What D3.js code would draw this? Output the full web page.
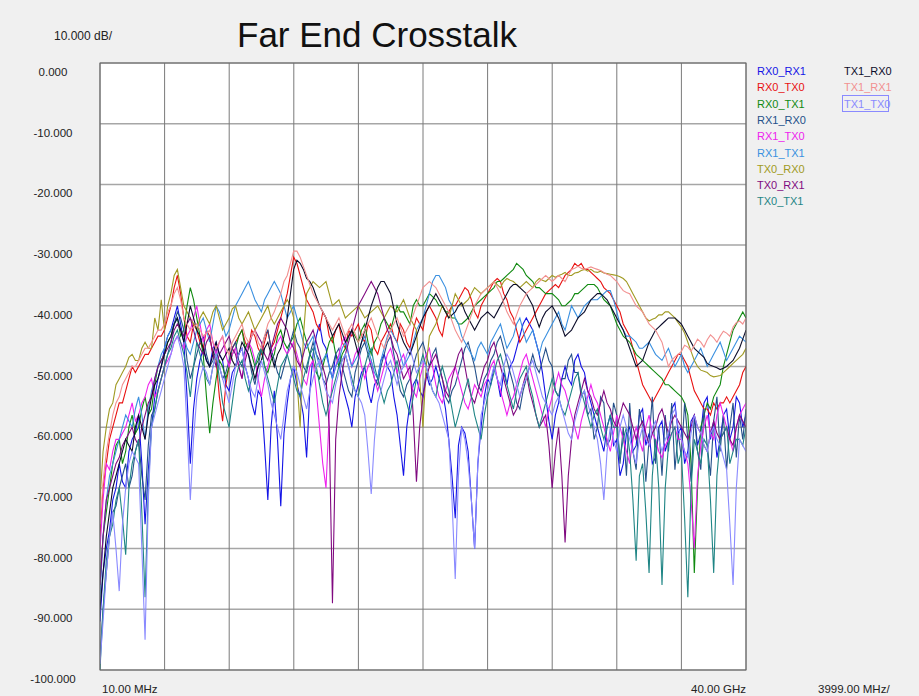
<!DOCTYPE html>
<html>
<head>
<meta charset="utf-8">
<script src="https://cdn.jsdelivr.net/npm/d3@7"></script>
<style>
  html, body { margin: 0; padding: 0; background: #f0f0f0; }
  svg { display: block; font-family: "Liberation Sans", Arial, sans-serif; }
</style>
</head>
<body>
<div id="chart"></div>
<script>
// sweep: 10 MHz then 0.2 GHz steps up to 40 GHz (values in GHz)
const freqs = d3.range(0, 201).map((i) => (i === 0 ? 0.01 : i * 0.2));

const yTicks = [0, -10, -20, -30, -40, -50, -60, -70, -80, -90, -100];
const seriesNames = ['RX0_RX1', 'RX0_TX0', 'RX0_TX1', 'RX1_RX0', 'RX1_TX0', 'RX1_TX1',
  'TX0_RX0', 'TX0_RX1', 'TX0_TX1', 'TX1_RX0', 'TX1_RX1', 'TX1_TX0'];
const seriesColors = ['#1414e6', '#e81010', '#108a10', '#24508a', '#ee22ee', '#3a90e0',
  '#a09a22', '#800a80', '#1f8585', '#0c0c2a', '#f29090', '#8a8aff'];

const rx0_rx1 = [-92,-84,-80,-77,-72,-70,-66,-69,-70,-64,-62,-61,-58,-66,-76,-67,-60,-55,-52,-50,
  -47,-45,-44,-42,-40,-43,-46,-55,-66,-57,-52,-49,-47,-49,-50,-47,-46,-48,-49,-53,
  -54,-51,-50,-48,-47,-50,-52,-56,-58,-54,-55,-63,-72,-60,-54,-62,-73,-61,-56,-52,
  -50,-53,-55,-58,-65,-54,-48,-45,-43,-46,-47,-50,-52,-48,-49,-53,-55,-57,-60,-55,
  -53,-51,-50,-54,-56,-53,-52,-49,-48,-50,-51,-55,-58,-63,-68,-60,-56,-53,-52,-54,
  -55,-51,-53,-52,-50,-52,-54,-57,-62,-68,-75,-63,-60,-61,-64,-72,-80,-66,-60,-55,
  -52,-53,-50,-52,-55,-51,-53,-50,-49,-47,-45,-43,-42,-43,-44,-46,-48,-51,-55,-59,
  -62,-58,-56,-52,-50,-52,-53,-49,-48,-50,-51,-54,-56,-58,-60,-62,-64,-60,-58,-63,
  -62,-68,-66,-61,-60,-64,-63,-58,-57,-63,-61,-66,-65,-60,-59,-64,-62,-57,-56,-61,
  -60,-66,-64,-59,-58,-63,-61,-56,-55,-62,-59,-65,-62,-58,-57,-62,-60,-55,-56,-60,
  -58];
const rx0_tx0 = [-78,-70,-66,-62,-60,-58,-56,-56,-54,-52,-50,-51,-50,-49,-48,-48,-47,-46,-45,-45,
  -44,-42,-40,-37,-35,-38,-42,-45,-46,-43,-44,-46,-47,-44,-45,-48,-49,-55,-59,-53,
  -50,-47,-46,-45,-44,-46,-47,-44,-45,-47,-48,-46,-44,-47,-46,-44,-42,-40,-38,-35,
  -32,-33,-35,-37,-39,-40,-41,-43,-44,-41,-42,-45,-46,-44,-43,-46,-47,-44,-45,-44,
  -43,-45,-46,-43,-44,-47,-48,-46,-45,-44,-43,-45,-46,-43,-44,-46,-47,-44,-42,-43,
  -44,-41,-40,-41,-42,-44,-45,-42,-41,-40,-40,-39,-38,-37,-37.5,-39,-41,-42,-40,-39,
  -38,-37,-36,-35.5,-36,-38,-39,-41,-42,-44,-46,-45,-44,-43,-42,-41,-40,-39,-38,-37.5,
  -37,-36.5,-37,-36,-35,-34.5,-34,-33,-33.5,-33,-34,-34,-34.5,-35,-35.5,-36,-37,-37.5,-38,-39,
  -40,-41,-43,-44,-45,-47,-49,-51,-53,-54,-55,-56,-55,-54,-53,-52,-51,-50,-49,-48,
  -48,-49,-50,-52,-54,-55,-56,-57,-57,-58,-56,-57,-56,-56,-55,-56,-55,-54,-53,-51,
  -50];
const rx0_tx1 = [-85,-78,-74,-70,-66,-63,-62,-66,-64,-60,-58,-61,-60,-57,-55,-58,-57,-53,-50,-49,
  -48,-46,-45,-43,-42,-45,-44,-40,-37,-39,-42,-45,-48,-55,-61,-56,-52,-49,-50,-52,
  -50,-48,-47,-45,-44,-47,-46,-48,-50,-49,-47,-50,-51,-49,-48,-45,-44,-46,-47,-46,
  -45,-43,-42,-44,-46,-48,-49,-51,-52,-50,-48,-46,-45,-48,-50,-48,-47,-45,-44,-45,
  -46,-44,-43,-46,-48,-46,-45,-43,-42,-43,-44,-42,-40,-41,-41,-42,-43,-40,-39,-40,
  -40,-39,-38,-38.5,-39,-40,-40,-41,-41,-42,-42,-43,-43,-42.5,-42,-41,-40,-39.5,-39,-38.5,
  -38,-37.5,-37,-36,-36,-35.5,-35,-34.5,-34,-33,-33.5,-34,-35,-35.5,-36,-37,-37,-37.5,-38,-38,
  -38,-38.5,-39,-40,-40,-39.5,-39,-38,-38,-37.5,-37,-36.5,-36.5,-36.5,-37,-38,-39,-39.5,-40,-41.5,
  -43,-44,-45,-45.5,-46,-47,-48,-48.5,-49,-49.5,-50,-50.5,-51,-51.5,-52,-53,-53,-53.5,-54,-54.5,
  -55,-56,-58,-66,-84,-70,-60,-58,-56,-57,-55,-54,-53,-50,-48,-46,-44,-43,-42,-41,
  -42];
const rx1_rx0 = [-98,-90,-84,-78,-74,-73,-70,-68,-66,-70,-68,-64,-62,-68,-72,-63,-58,-57,-54,-52,
  -50,-48,-46,-43,-41,-42,-44,-49,-52,-50,-48,-46,-45,-48,-50,-49,-47,-50,-52,-51,
  -49,-47,-46,-49,-50,-47,-48,-51,-53,-50,-47,-45,-44,-47,-49,-51,-52,-50,-48,-46,
  -44,-46,-47,-50,-51,-48,-46,-48,-49,-52,-53,-51,-50,-48,-47,-50,-52,-54,-55,-51,
  -49,-47,-46,-48,-50,-52,-53,-50,-48,-46,-45,-48,-51,-54,-55,-53,-52,-50,-48,-47,
  -46,-48,-50,-48,-47,-50,-52,-55,-56,-54,-53,-51,-49,-47,-46,-48,-50,-53,-54,-52,
  -51,-49,-48,-46,-45,-47,-49,-51,-53,-56,-57,-54,-52,-50,-48,-50,-51,-49,-47,-49,
  -50,-54,-55,-52,-52,-49,-48,-51,-51,-55,-54,-58,-57,-62,-60,-55,-56,-63,-62,-56,
  -58,-66,-60,-68,-56,-64,-67,-57,-60,-69,-62,-55,-66,-60,-68,-58,-64,-56,-67,-61,
  -65,-56,-62,-69,-58,-64,-67,-57,-63,-68,-59,-55,-64,-58,-67,-60,-56,-65,-58,-62,
  -57];
const rx1_tx0 = [-80,-72,-66,-67,-64,-62,-62,-61,-60,-58,-56,-59,-58,-56,-55,-53,-52,-55,-54,-52,
  -50,-49,-48,-46,-45,-46,-47,-45,-44,-42,-40,-43,-46,-44,-43,-46,-48,-46,-45,-48,
  -50,-48,-47,-50,-52,-48,-46,-47,-49,-52,-55,-52,-50,-48,-47,-46,-45,-47,-48,-47,
  -46,-48,-50,-52,-53,-50,-49,-54,-60,-66,-70,-58,-52,-50,-48,-46,-45,-48,-50,-48,
  -47,-50,-52,-50,-49,-52,-54,-52,-50,-48,-47,-49,-51,-49,-48,-50,-52,-54,-55,-52,
  -50,-48,-47,-50,-53,-55,-56,-54,-52,-51,-50,-52,-54,-56,-57,-55,-53,-54,-55,-53,
  -52,-50,-49,-52,-54,-56,-58,-56,-55,-53,-51,-49,-48,-50,-52,-54,-56,-58,-60,-57,
  -55,-53,-51,-53,-54,-56,-58,-60,-62,-59,-57,-55,-53,-55,-56,-58,-60,-62,-64,-61,
  -58,-60,-62,-64,-66,-62,-60,-62,-64,-60,-58,-61,-62,-64,-65,-63,-62,-61,-60,-62,
  -62,-64,-66,-72,-80,-68,-63,-60,-58,-61,-62,-58,-56,-58,-60,-62,-64,-60,-58,-57,
  -56];
const rx1_tx1 = [-88,-78,-72,-68,-66,-64,-62,-60,-58,-59,-60,-57,-55,-58,-62,-57,-54,-52,-50,-48,
  -47,-45,-44,-43,-42,-44,-45,-47,-48,-46,-44,-43,-42,-44,-46,-43,-40,-41,-43,-45,
  -44,-42,-40,-39,-38,-37,-36,-37.5,-39,-40,-41,-39,-38,-37,-36,-37,-38,-40,-42,-41,
  -40,-42,-44,-46,-47,-46,-45,-48,-50,-49,-48,-50,-52,-50,-49,-47,-46,-48,-50,-49,
  -48,-46,-45,-47,-49,-51,-52,-49,-47,-45,-44,-45,-46,-48,-50,-49,-48,-46,-44,-43,
  -42,-40,-38,-36,-35,-35,-36,-37,-39,-40,-42,-43,-45,-46,-47,-48,-49,-47,-46,-47,
  -48,-46,-45,-44,-43,-45,-47,-46,-45,-43,-42,-44,-46,-45,-44,-46,-48,-46,-45,-44,
  -43,-42,-41,-43,-44,-42,-40,-41,-42,-41,-40,-39.5,-39,-39,-39,-38.5,-38,-37.5,-37.5,-39,
  -41,-43,-44,-45,-45,-45.5,-46,-47,-47,-46.5,-46,-47,-48,-48.5,-49,-48,-47,-48.5,-50,-49,
  -48,-50,-51,-50,-49,-48,-47,-48.5,-50,-49,-48,-47,-46,-47.5,-49,-48,-47,-46,-45,-45.5,
  -46];
const tx0_rx0 = [-72,-64,-60,-57,-56,-53,-52,-51,-50,-48.5,-48,-49,-49,-47,-46,-47,-47,-42,-44,-39,
  -44,-40,-38,-35,-34,-37,-40,-41,-42,-43,-44,-42,-41,-42,-43,-41,-40,-42,-44,-43,
  -42,-40.5,-40,-42,-43,-42,-41,-42.5,-44,-43,-42,-41,-40,-42,-43,-42,-41,-40,-39,-40,
  -42,-52,-60,-45,-38,-37,-36,-36.5,-37,-36.5,-36,-38,-40,-39.5,-39,-40.5,-42,-41.5,-41,-40.5,
  -40,-41,-42,-41.5,-41,-40.5,-40,-41,-42,-41,-40,-40.5,-41,-40,-39,-40.5,-42,-43,-44,-52,
  -60,-50,-45,-44,-43,-41.5,-40,-41,-42,-40,-38,-39,-40,-39.5,-39,-38,-37,-37.5,-38,-37.5,
  -37,-36.5,-36,-36.5,-37,-36,-35.5,-35.8,-36,-36.5,-37,-36.5,-36,-36.5,-37,-36,-35.5,-35.8,-36,-35.5,
  -35,-35.3,-35,-34.8,-34.5,-35,-35,-34.6,-34.5,-34.2,-34,-34.3,-34,-34.4,-34.5,-34.3,-34.6,-34.7,-34.8,-34.9,
  -35,-35.2,-35.5,-36,-37,-38,-39,-40,-41,-42,-42.5,-42.2,-42,-41.5,-41.5,-41,-41,-41.5,-42,-42.8,
  -43.5,-44.5,-46,-47.5,-49,-50,-50.6,-50.8,-51,-51.5,-51.7,-51.6,-51.5,-51,-50.5,-50,-49.5,-49,-48.5,-48,
  -47];
const tx0_rx1 = [-86,-78,-72,-70,-68,-66,-65,-63,-62,-61,-60,-62,-63,-60,-58,-56,-55,-52,-50,-49,
  -48,-47,-46,-44,-43,-44,-45,-43,-42,-44,-46,-47,-48,-46,-45,-48,-50,-48,-47,-46,
  -45,-47,-48,-50,-52,-49,-47,-45,-44,-45,-46,-48,-49,-47,-45,-43,-42,-43,-44,-46,
  -47,-49,-50,-48,-46,-45,-44,-46,-48,-50,-52,-60,-89,-62,-55,-51,-48,-46,-44,-42,
  -40,-39,-38,-37,-36,-37,-38,-40,-42,-44,-45,-47,-48,-50,-52,-51,-50,-58,-69,-60,
  -55,-52,-50,-49,-48,-50,-52,-54,-55,-52,-50,-48,-47,-50,-53,-55,-56,-54,-52,-50,
  -49,-47,-46,-48,-50,-52,-54,-56,-58,-57,-55,-53,-51,-54,-56,-58,-60,-59,-58,-63,
  -70,-64,-60,-68,-79,-68,-62,-58,-56,-54,-52,-54,-55,-57,-58,-56,-54,-56,-57,-59,
  -60,-58,-56,-57,-58,-60,-62,-60,-59,-61,-63,-61,-60,-58,-57,-59,-61,-59,-58,-59,
  -60,-61,-62,-60,-58,-60,-61,-63,-64,-61,-59,-61,-62,-61,-60,-62,-63,-60,-58,-59,
  -60];
const tx0_tx1 = [-100,-90,-82,-78,-76,-72,-70,-75,-81,-70,-66,-64,-62,-74,-88,-70,-60,-57,-54,-52,
  -50,-48,-47,-45,-44,-46,-48,-51,-55,-50,-46,-48,-50,-52,-53,-50,-48,-52,-56,-58,
  -60,-56,-52,-50,-49,-52,-54,-52,-50,-48,-47,-50,-52,-54,-56,-53,-50,-49,-48,-50,
  -52,-54,-55,-52,-50,-48,-47,-50,-53,-56,-58,-56,-54,-52,-50,-49,-48,-50,-52,-54,
  -55,-52,-50,-48,-47,-50,-52,-54,-56,-54,-53,-51,-49,-52,-54,-56,-58,-55,-52,-50,
  -48,-50,-52,-54,-55,-52,-50,-52,-54,-57,-60,-58,-56,-54,-52,-55,-58,-60,-62,-58,
  -55,-53,-51,-49,-48,-50,-53,-55,-57,-54,-52,-51,-50,-53,-55,-58,-60,-58,-56,-54,
  -52,-54,-55,-57,-58,-56,-54,-52,-51,-54,-56,-58,-60,-58,-57,-60,-62,-60,-58,-60,
  -60,-65,-62,-60,-64,-72,-82,-68,-66,-74,-84,-68,-62,-70,-86,-70,-63,-61,-60,-66,
  -64,-75,-88,-70,-62,-64,-66,-62,-63,-72,-84,-68,-62,-61,-60,-66,-64,-62,-62,-63,
  -60];
const tx1_rx0 = [-90,-84,-78,-74,-70,-68,-66,-64,-62,-63,-64,-60,-58,-60,-62,-58,-55,-53,-52,-50,
  -48,-46,-45,-43,-42,-44,-46,-43,-40,-42,-44,-45,-47,-49,-50,-48,-46,-48,-49,-48,
  -47,-49,-50,-48,-46,-47,-48,-50,-52,-50,-49,-47,-46,-48,-50,-48,-47,-45,-42,-38,
  -34,-32.5,-33,-34,-35.5,-36,-37,-38.5,-40,-41,-42,-43.5,-45,-44,-43,-44.5,-46,-45,-44,-46,
  -48,-46,-44,-42,-40,-38.5,-37,-36,-36,-37,-38,-40.5,-43,-44.5,-46,-47,-48,-46.5,-45,-43.5,
  -42,-41,-40,-39,-38,-39,-40,-41,-42,-41.5,-41,-40,-39.5,-41,-42,-43,-44,-43,-42,-41.5,
  -41,-41.5,-42,-41,-40,-39,-38,-37,-36.5,-36.5,-37,-37.5,-38,-39,-40,-42,-43.5,-42,-41,-40.5,
  -40,-41,-42,-43.5,-45,-44.5,-44,-43,-42,-41.5,-41,-40,-39,-38.5,-38,-38,-38.5,-39,-40,-41,
  -42,-43,-44,-45.5,-47,-48.5,-50,-49.5,-49,-47.5,-46,-45,-44,-43.5,-43,-42.5,-42,-42,-42,-42.5,
  -43,-44,-45,-46,-47,-47.5,-48,-48.5,-49.5,-49.8,-50,-50.2,-50.5,-50.3,-50,-49.5,-49,-48,-47,-45.5,
  -44];
const tx1_rx1 = [-76,-69,-64,-61,-58,-56,-55,-53,-52,-51,-50,-50,-49,-48,-47,-47,-46,-45,-44,-44,
  -43,-41,-40,-38,-37,-39,-42,-43,-44,-43.5,-43,-44,-45,-44.5,-44,-46,-47,-46,-45,-47,
  -48,-46,-45,-44,-43,-45,-46,-45,-44,-46,-47,-45,-43,-42,-41,-39.5,-38,-36,-35,-33,
  -31,-31,-32,-33.5,-35,-36.5,-38,-39,-40,-41,-42,-43,-44,-43,-42,-43.5,-45,-44,-43,-44.5,
  -46,-45,-44,-43,-42,-43.5,-45,-46,-47,-45.5,-44,-43,-42,-43.5,-45,-44,-43,-41.5,-40,-38.5,
  -37,-36.5,-36,-36.5,-37,-38,-39,-40,-41,-42.5,-44,-45,-46,-44.5,-43,-41.5,-40,-39,-38,-37.5,
  -37,-36.5,-36,-37,-38,-39.5,-41,-42,-43,-41.5,-40,-39,-38,-37.5,-37,-36.5,-36,-35.5,-35,-35.5,
  -36,-35.5,-35,-35.5,-36,-35,-34,-33.8,-33.5,-33.8,-34,-33.8,-33.6,-33.8,-34,-34.2,-34.5,-34.8,-35,-35.5,
  -36,-36.8,-37.5,-37.8,-38,-39,-40,-40.5,-41,-42,-43,-43.5,-44,-45,-46,-48,-50,-49,-48.4,-48,
  -47.5,-46.5,-46.8,-47.5,-46.5,-45.5,-46,-46.8,-45.6,-44.8,-45.3,-46,-45,-44.2,-44.5,-45,-43.5,-42.8,-42.5,-43,
  -42];
const tx1_tx0 = [-99,-92,-84,-78,-74,-80,-87,-76,-70,-66,-64,-65,-66,-80,-95,-72,-60,-58,-56,-54,
  -52,-50,-48,-46,-45,-47,-50,-60,-72,-62,-55,-52,-50,-51,-53,-50,-48,-50,-52,-54,
  -56,-53,-50,-48,-47,-50,-52,-54,-55,-52,-49,-51,-53,-56,-58,-60,-62,-58,-54,-52,
  -50,-51,-53,-55,-57,-54,-52,-50,-49,-52,-54,-55,-56,-53,-51,-49,-48,-50,-53,-54,
  -55,-56,-58,-64,-71,-62,-56,-54,-52,-50,-49,-51,-53,-51,-50,-48,-47,-49,-51,-50,
  -49,-50,-52,-54,-55,-56,-58,-60,-62,-72,-85,-68,-60,-62,-66,-72,-80,-66,-58,-56,
  -54,-52,-50,-52,-53,-50,-48,-49,-51,-53,-55,-53,-52,-50,-49,-51,-53,-55,-56,-57,
  -58,-56,-55,-57,-59,-61,-62,-59,-57,-55,-54,-56,-58,-60,-62,-66,-72,-64,-60,-62,
  -64,-60,-58,-60,-62,-64,-66,-62,-60,-62,-63,-60,-59,-62,-64,-62,-61,-58,-57,-60,
  -62,-64,-65,-61,-58,-60,-61,-63,-64,-61,-60,-62,-63,-65,-67,-76,-86,-70,-62,-63,
  -64];

const seriesValues = [rx0_rx1, rx0_tx0, rx0_tx1, rx1_rx0, rx1_tx0, rx1_tx1,
  tx0_rx0, tx0_rx1, tx0_tx1, tx1_rx0, tx1_rx1, tx1_tx0];

const W = 919, H = 696;
const plot = { left: 100, right: 746, top: 63, bottom: 670 };

const svg = d3.select('#chart').append('svg').attr('width', W).attr('height', H);
svg.append('rect').attr('width', W).attr('height', H).attr('fill', '#f0f0f0');

const x = d3.scaleLinear([0.01, 40], [plot.left, plot.right]);
const y = d3.scaleLinear([0, -100], [plot.top, plot.bottom]);
const xDivs = d3.range(0, 11).map((k) => 0.01 + k * 3.999);

svg.append('rect').attr('x', plot.left).attr('y', plot.top)
  .attr('width', plot.right - plot.left).attr('height', plot.bottom - plot.top).attr('fill', '#fff');

svg.append('defs').append('clipPath').attr('id', 'clip').append('rect')
  .attr('x', plot.left).attr('y', plot.top)
  .attr('width', plot.right - plot.left).attr('height', plot.bottom - plot.top);

// grid
svg.append('g').selectAll('line').data(yTicks).join('line')
  .attr('x1', plot.left).attr('x2', plot.right)
  .attr('y1', (d) => y(d)).attr('y2', (d) => y(d))
  .attr('stroke', '#a6a6a6').attr('stroke-width', 1.5);
svg.append('g').selectAll('line').data(xDivs).join('line')
  .attr('x1', (d) => x(d)).attr('x2', (d) => x(d))
  .attr('y1', plot.top).attr('y2', plot.bottom)
  .attr('stroke', '#7a7a7a').attr('stroke-width', 1);

// traces
const line = d3.line().x((d, i) => x(freqs[i])).y((d) => y(d));
svg.append('g').attr('clip-path', 'url(#clip)').selectAll('path').data(seriesValues).join('path')
  .attr('d', line).attr('fill', 'none')
  .attr('stroke', (d, i) => seriesColors[i]).attr('stroke-width', 1.1);

svg.append('rect').attr('x', plot.left).attr('y', plot.top)
  .attr('width', plot.right - plot.left).attr('height', plot.bottom - plot.top)
  .attr('fill', 'none').attr('stroke', '#6a6a6a').attr('stroke-width', 1);

// y labels (plain hyphen as in the instrument readout)
svg.append('g').selectAll('text').data(yTicks).join('text')
  .attr('x', 53).attr('y', (d) => y(d) + 13).attr('text-anchor', 'middle')
  .attr('font-size', 11.5).attr('fill', '#222')
  .text((d) => d.toFixed(3));

svg.append('text').attr('x', 54).attr('y', 40).attr('font-size', 12).attr('fill', '#222').text('10.000 dB/');
svg.append('text').attr('x', 237).attr('y', 47).attr('font-size', 35).attr('fill', '#111').text('Far End Crosstalk');

svg.append('text').attr('x', 102).attr('y', 693).attr('font-size', 11.5).attr('fill', '#222').text('10.00 MHz');
svg.append('text').attr('x', 746).attr('y', 693).attr('text-anchor', 'end').attr('font-size', 11.5).attr('fill', '#222').text('40.00 GHz');
svg.append('text').attr('x', 818).attr('y', 693).attr('font-size', 11.5).attr('fill', '#222').text('3999.00 MHz/');

// legend
const legend = svg.append('g');
legend.selectAll('text').data(seriesNames).join('text')
  .attr('x', (d, i) => (i < 9 ? 757 : 844))
  .attr('y', (d, i) => 75 + (i < 9 ? i : i - 9) * 16.3)
  .attr('font-size', 11)
  .attr('fill', (d, i) => seriesColors[i])
  .text((d) => d);
legend.append('rect').attr('x', 842.5).attr('y', 95.5).attr('width', 46).attr('height', 16)
  .attr('fill', 'none').attr('stroke', seriesColors[11]).attr('stroke-width', 1);
</script>
</body>
</html>
